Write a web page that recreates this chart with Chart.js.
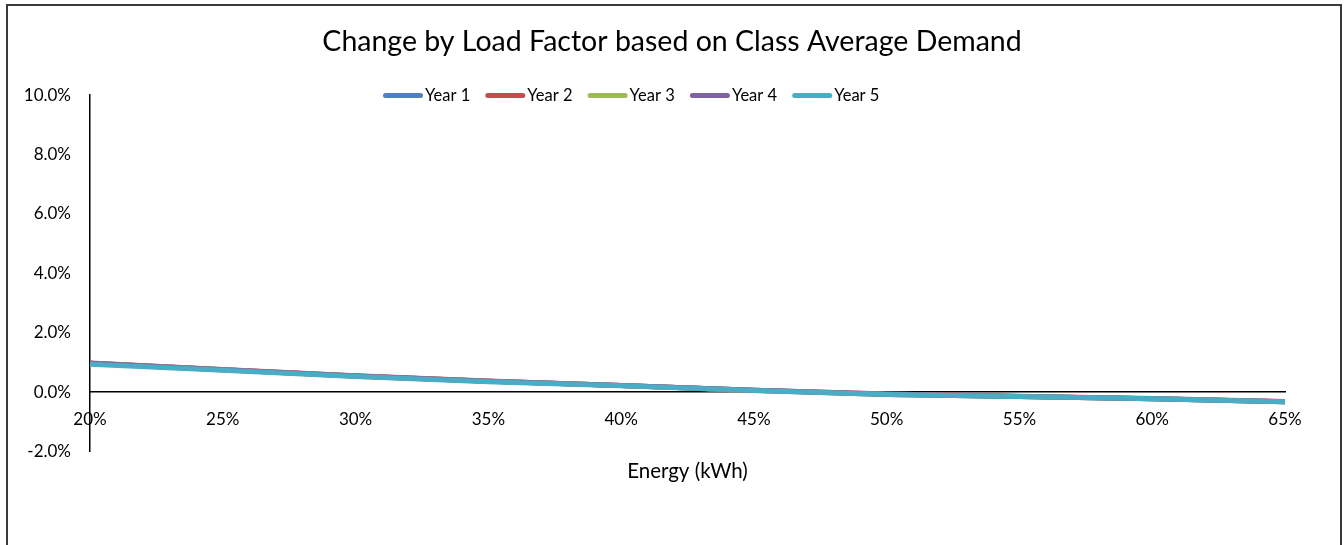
<!DOCTYPE html>
<html>
<head>
<meta charset="utf-8">
<script src="https://cdn.jsdelivr.net/npm/chart.js@4.4.1/dist/chart.umd.min.js"></script>
<style>
  html, body { margin: 0; padding: 0; background: #fff; overflow: hidden; }
  #wrap { position: relative; width: 1344px; height: 545px; }
  #frame { position: absolute; left: 6px; top: 4px; width: 1336px; height: 600px;
           border: 2px solid #3a3a3a; box-sizing: border-box; }
  canvas { position: absolute; left: 0; top: 0; }
</style>
</head>
<body>
<div id="wrap">
  <div id="frame"></div>
  <canvas id="chart" width="1344" height="545"></canvas>
</div>
<script>
// Load factor categories along the x axis
const categories = ['20%', '25%', '30%', '35%', '40%', '45%', '50%', '55%', '60%', '65%'];

// Percent change for each year of the plan
const year1 = [0.97, 0.75, 0.54, 0.36, 0.22, 0.06, -0.07, -0.15, -0.23, -0.33];
const year2 = [0.98, 0.76, 0.55, 0.37, 0.22, 0.06, -0.07, -0.14, -0.22, -0.32];
const year3 = [0.96, 0.75, 0.53, 0.36, 0.22, 0.05, -0.08, -0.15, -0.23, -0.33];
const year4 = [0.97, 0.75, 0.54, 0.36, 0.22, 0.06, -0.08, -0.15, -0.23, -0.33];
const year5 = [0.94, 0.73, 0.52, 0.35, 0.21, 0.05, -0.08, -0.15, -0.23, -0.33];

const seriesNames = ['Year 1', 'Year 2', 'Year 3', 'Year 4', 'Year 5'];
const seriesColors = ['#4F81BD', '#C0504D', '#9BBB59', '#8064A2', '#4BACC6'];

// Y axis range and step (percent)
const yMin = -2;
const yMax = 10;
const yStep = 2;

const FONT = 'Lato, "Open Sans", sans-serif';

// Legend drawn as a single row of line samples, overlapping the top of the plot
const lineLegend = {
  id: 'lineLegend',
  afterDraw(chart, args, opts) {
    const ctx = chart.ctx;
    ctx.save();
    ctx.font = opts.fontSize + 'px ' + FONT;
    ctx.textBaseline = 'middle';
    ctx.textAlign = 'left';
    chart.data.datasets.forEach((ds, i) => {
      const x = opts.left + i * opts.itemWidth;
      ctx.strokeStyle = ds.borderColor;
      ctx.lineWidth = opts.lineWidth;
      ctx.lineCap = 'round';
      ctx.beginPath();
      ctx.moveTo(x + opts.lineWidth / 2, opts.y);
      ctx.lineTo(x + opts.lineLength - opts.lineWidth / 2, opts.y);
      ctx.stroke();
      ctx.fillStyle = opts.color;
      ctx.fillText(ds.label, x + opts.lineLength + opts.gap, opts.y + 0.5);
    });
    ctx.restore();
  }
};

const seriesValues = [year1, year2, year3, year4, year5];

new Chart(document.getElementById('chart'), {
  type: 'line',
  data: {
    labels: categories,
    datasets: seriesValues.map((vals, i) => ({
      label: seriesNames[i],
      data: vals,
      borderColor: seriesColors[i],
      backgroundColor: seriesColors[i],
      borderWidth: 5,
      pointRadius: 0,
      tension: 0,
      fill: false,
      // later years are painted over earlier ones
      order: seriesValues.length - i
    }))
  },
  options: {
    responsive: false,
    animation: false,
    layout: { padding: { left: 0, right: 0, top: 0, bottom: 61 } },
    plugins: {
      legend: { display: false },
      tooltip: { enabled: false },
      title: {
        display: true,
        text: 'Change by Load Factor based on Class Average Demand',
        color: '#000',
        font: { family: FONT, size: 28.5, weight: 'normal' },
        padding: { top: 25, bottom: 36 }
      },
      subtitle: {
        display: true,
        position: 'bottom',
        fullSize: false,
        text: 'Energy (kWh)',
        color: '#000',
        font: { family: FONT, size: 20.5, weight: 'normal' },
        padding: { top: 8, bottom: 0 }
      },
      lineLegend: {
        left: 383, itemWidth: 102.3, y: 95.5,
        lineLength: 40, lineWidth: 5, gap: 2,
        fontSize: 16.5, color: '#000'
      }
    },
    scales: {
      x: {
        type: 'category',
        offset: false,
        position: { y: 0 },
        grid: { display: false, drawTicks: false },
        border: { display: true, color: '#000', width: 1.5 },
        ticks: { color: '#000', font: { family: FONT, size: 17 }, padding: 17, maxRotation: 0, autoSkip: false },
        afterFit(scale) { scale.height = 0; }
      },
      y: {
        min: yMin,
        max: yMax,
        ticks: {
          stepSize: yStep,
          color: '#000',
          font: { family: FONT, size: 17 },
          padding: 19,
          callback: v => v.toFixed(1) + '%'
        },
        grid: { display: false, drawTicks: false },
        border: { display: true, color: '#000', width: 1.5 },
        afterFit(scale) { scale.width = 90; }
      },
      // blank margin on the right of the plot
      rightMargin: {
        type: 'linear',
        position: 'right',
        display: true,
        ticks: { display: false },
        grid: { display: false, drawTicks: false },
        border: { display: false },
        afterFit(scale) { scale.width = 59; }
      }
    }
  },
  plugins: [lineLegend]
});
</script>
</body>
</html>
